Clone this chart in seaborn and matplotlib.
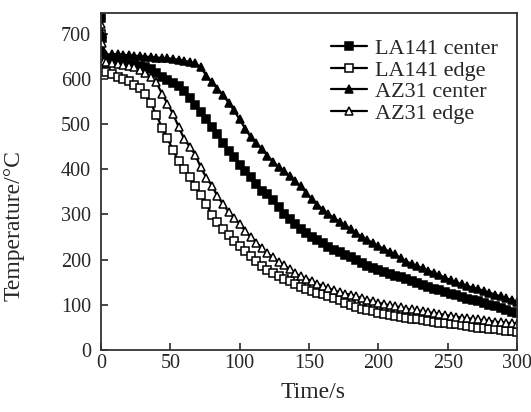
import numpy as np
import pandas as pd
import matplotlib
matplotlib.use("Agg")
import matplotlib.pyplot as plt
import seaborn as sns

# time axis (s)
time_s = [0, 1, 2] + list(range(4, 301, 4))

la141_center = [735, 690, 645,
    640, 638, 636, 634, 632, 630, 628, 625, 622, 612, 604, 597, 590, 583, 572, 558,
    542, 527, 511, 494, 478, 459, 441, 426, 410, 397, 383, 368, 352, 345, 332, 316,
    302, 290, 279, 267, 259, 251, 243, 236, 229, 222, 216, 210, 205, 199, 193, 187,
    182, 177, 172, 168, 165, 162, 157, 152, 148, 144, 140, 136, 132, 128, 125, 121,
    118, 114, 111, 108, 104, 101, 97, 93, 89, 85, 82]

la141_edge = [700, 650, 618,
    614, 610, 605, 600, 594, 587, 579, 566, 546, 520, 492, 468, 442, 418, 400, 383,
    364, 344, 323, 299, 284, 267, 255, 242, 230, 219, 208, 197, 186, 177, 170, 164,
    158, 152, 146, 140, 135, 131, 127, 124, 120, 115, 110, 105, 100, 96, 92, 89,
    86, 83, 81, 78, 76, 74, 72, 70, 68, 66, 64, 63, 61, 60, 58, 57,
    55, 54, 52, 50, 49, 47, 46, 44, 43, 42, 41]

az31_center = [740, 700, 660,
    652, 655, 654, 653, 652, 651, 650, 649, 648, 647, 646, 645, 644, 642, 640, 637,
    634, 625, 607, 592, 578, 565, 547, 530, 510, 490, 471, 458, 445, 430, 417, 405,
    396, 386, 374, 362, 348, 334, 322, 311, 301, 292, 284, 276, 268, 259, 251, 244,
    237, 230, 224, 218, 212, 203, 196, 191, 186, 181, 176, 171, 166, 160, 155, 150,
    146, 142, 138, 135, 131, 127, 123, 119, 115, 111, 107]

az31_edge = [720, 680, 640,
    636, 634, 632, 630, 628, 625, 620, 613, 604, 592, 567, 545, 522, 494, 467, 450,
    432, 404, 381, 364, 340, 323, 306, 293, 279, 264, 250, 238, 226, 214, 205, 196,
    188, 179, 170, 163, 158, 153, 147, 142, 137, 132, 128, 125, 123, 119, 115, 111,
    108, 105, 102, 99, 97, 95, 92, 90, 88, 86, 84, 82, 80, 78, 76, 74,
    72, 71, 69, 68, 66, 65, 63, 62, 61, 60, 59]

series_names = ["LA141 center", "LA141 edge", "AZ31 center", "AZ31 edge"]
x_ticks = [0, 50, 100, 150, 200, 250, 300]
y_ticks = [0, 100, 200, 300, 400, 500, 600, 700]

sns.set_style("ticks")
plt.rcParams["font.family"] = ["Liberation Serif", "DejaVu Serif"]

fig = plt.figure(figsize=(5.31, 4.12), dpi=100)
ax = fig.add_axes([0.190, 0.150, 0.784, 0.818])

styles = [
    dict(marker="s", mfc="black"),
    dict(marker="s", mfc="white"),
    dict(marker="^", mfc="black"),
    dict(marker="^", mfc="white"),
]
data = [la141_center, la141_edge, az31_center, az31_edge]

for name, vals, st in zip(series_names, data, styles):
    df = pd.DataFrame({"t": time_s, "T": vals})
    sns.lineplot(data=df, x="t", y="T", ax=ax, color="black", lw=1.6,
                 marker=st["marker"], markerfacecolor=st["mfc"],
                 markeredgecolor="black", markeredgewidth=1.1, markersize=5.6,
                 label=name)

ax.set_xlim(0, 300)
ax.set_ylim(0, 745)
ax.set_xticks(x_ticks)
ax.set_yticks(y_ticks)
ax.tick_params(axis="both", direction="in", length=5, width=1.2, labelsize=14.5,
               top=False, right=False)
ax.tick_params(axis="y", pad=7)
ax.tick_params(axis="x", pad=3)
for sp in ax.spines.values():
    sp.set_color("#333333")
    sp.set_linewidth(1.3)

ax.set_xlabel("Time/s", fontsize=17)
ax.set_ylabel("Temperature/°C", fontsize=17)
ax.xaxis.set_label_coords(0.51, -0.095)
ax.yaxis.set_label_coords(-0.183, 0.37)

leg = ax.legend(loc="upper right", bbox_to_anchor=(0.985, 0.965), frameon=False,
                fontsize=16, handlelength=1.6, handletextpad=0.35,
                labelspacing=0.05, borderaxespad=0.2)

fig.savefig("out.png", dpi=100)
